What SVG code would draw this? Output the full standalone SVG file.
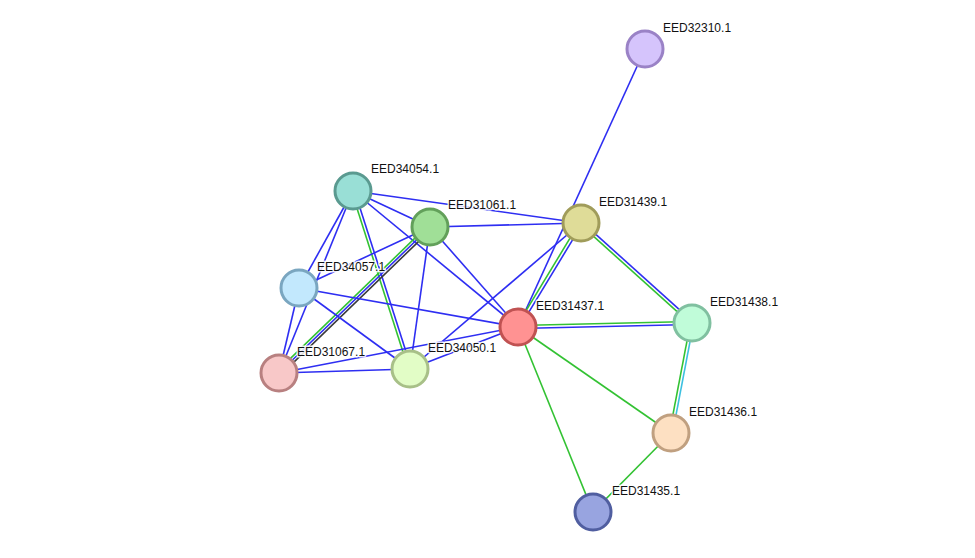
<svg xmlns="http://www.w3.org/2000/svg" width="975" height="558" viewBox="0 0 975 558">
<style>
.e{stroke-width:1.6;fill:none}
.b{stroke:#2e2ef2}
.g{stroke:#33c233}
.k{stroke:#3a3a3a}
.c{stroke:#3cc0e0}
.n{stroke-width:3}
.t{font-family:"Liberation Sans",Arial,sans-serif;font-size:12px;fill:#111;stroke:#fff;stroke-width:3;stroke-opacity:0.85;paint-order:stroke;stroke-linejoin:round}
</style>
<rect width="975" height="558" fill="#fff"/>
<g id="edges">
<line class="e b" x1="645" y1="49" x2="518" y2="327"/>
<line class="e b" x1="353" y1="191" x2="430" y2="227"/>
<line class="e b" x1="353" y1="191" x2="581" y2="223"/>
<line class="e b" x1="353" y1="191" x2="299" y2="288"/>
<line class="e b" x1="353" y1="191" x2="279" y2="373"/>
<line class="e b" x1="353" y1="191" x2="518" y2="327"/>
<line class="e g" x1="351.6" y1="191.5" x2="408.6" y2="369.5"/>
<line class="e b" x1="354.4" y1="190.5" x2="411.4" y2="368.5"/>
<line class="e b" x1="430" y1="227" x2="581" y2="223"/>
<line class="e b" x1="430" y1="227" x2="299" y2="288"/>
<line class="e b" x1="430" y1="227" x2="410" y2="369"/>
<line class="e b" x1="430" y1="227" x2="518" y2="327"/>
<line class="e g" x1="428.3" y1="225.2" x2="277.3" y2="371.2"/>
<line class="e b" x1="430" y1="227" x2="279" y2="373"/>
<line class="e k" x1="431.7" y1="228.8" x2="280.7" y2="374.8"/>
<line class="e b" x1="299" y1="288" x2="518" y2="327"/>
<line class="e b" x1="299" y1="288" x2="410" y2="369"/>
<line class="e b" x1="299" y1="288" x2="279" y2="373"/>
<line class="e b" x1="279" y1="373" x2="410" y2="369"/>
<line class="e b" x1="279" y1="373" x2="518" y2="327"/>
<line class="e b" x1="410" y1="369" x2="518" y2="327"/>
<line class="e b" x1="410" y1="369" x2="581" y2="223"/>
<line class="e g" x1="579.7" y1="222.2" x2="516.7" y2="326.2"/>
<line class="e b" x1="582.3" y1="223.8" x2="519.3" y2="327.8"/>
<line class="e b" x1="582" y1="221.9" x2="693" y2="321.9"/>
<line class="e g" x1="580" y1="224.1" x2="691" y2="324.1"/>
<line class="e g" x1="518" y1="325.5" x2="692" y2="321.5"/>
<line class="e b" x1="518" y1="328.5" x2="692" y2="324.5"/>
<line class="e g" x1="690.5" y1="322.7" x2="669.5" y2="432.7"/>
<line class="e c" x1="693.5" y1="323.3" x2="672.5" y2="433.3"/>
<line class="e g" x1="518" y1="327" x2="671" y2="433"/>
<line class="e g" x1="518" y1="327" x2="593" y2="512"/>
<line class="e g" x1="671" y1="433" x2="593" y2="512"/>
</g>
<g id="EED32310.1"><circle class="n" cx="645" cy="49" r="18" fill="#d5c4fc" stroke="#9a82c6"/><text class="t" x="663" y="32">EED32310.1</text></g>
<g id="EED34054.1"><circle class="n" cx="353" cy="191" r="18" fill="#99dfd6" stroke="#5a9a90"/><text class="t" x="371" y="173">EED34054.1</text></g>
<g id="EED31061.1"><circle class="n" cx="430" cy="227" r="18" fill="#a0df97" stroke="#62a05a"/><text class="t" x="448" y="209">EED31061.1</text></g>
<g id="EED31439.1"><circle class="n" cx="581" cy="223" r="18" fill="#dfdc98" stroke="#a09c5a"/><text class="t" x="599" y="206">EED31439.1</text></g>
<g id="EED34057.1"><circle class="n" cx="299" cy="288" r="18" fill="#c2e8fd" stroke="#7aa6c0"/><text class="t" x="317" y="271">EED34057.1</text></g>
<g id="EED31437.1"><circle class="n" cx="518" cy="327" r="18" fill="#ff9292" stroke="#c05252"/><text class="t" x="536" y="310">EED31437.1</text></g>
<g id="EED31438.1"><circle class="n" cx="692" cy="323" r="18" fill="#c0fcd9" stroke="#80c0a0"/><text class="t" x="710" y="306">EED31438.1</text></g>
<g id="EED31067.1"><circle class="n" cx="279" cy="373" r="18" fill="#f8c8c8" stroke="#b88080"/><text class="t" x="297" y="356">EED31067.1</text></g>
<g id="EED34050.1"><circle class="n" cx="410" cy="369" r="18" fill="#e2fdc6" stroke="#a8c088"/><text class="t" x="428" y="352">EED34050.1</text></g>
<g id="EED31436.1"><circle class="n" cx="671" cy="433" r="18" fill="#fde0c2" stroke="#c0a080"/><text class="t" x="689" y="416">EED31436.1</text></g>
<g id="EED31435.1"><circle class="n" cx="593" cy="512" r="18" fill="#98a4e0" stroke="#505ea0"/><text class="t" x="612" y="495">EED31435.1</text></g>
</svg>
